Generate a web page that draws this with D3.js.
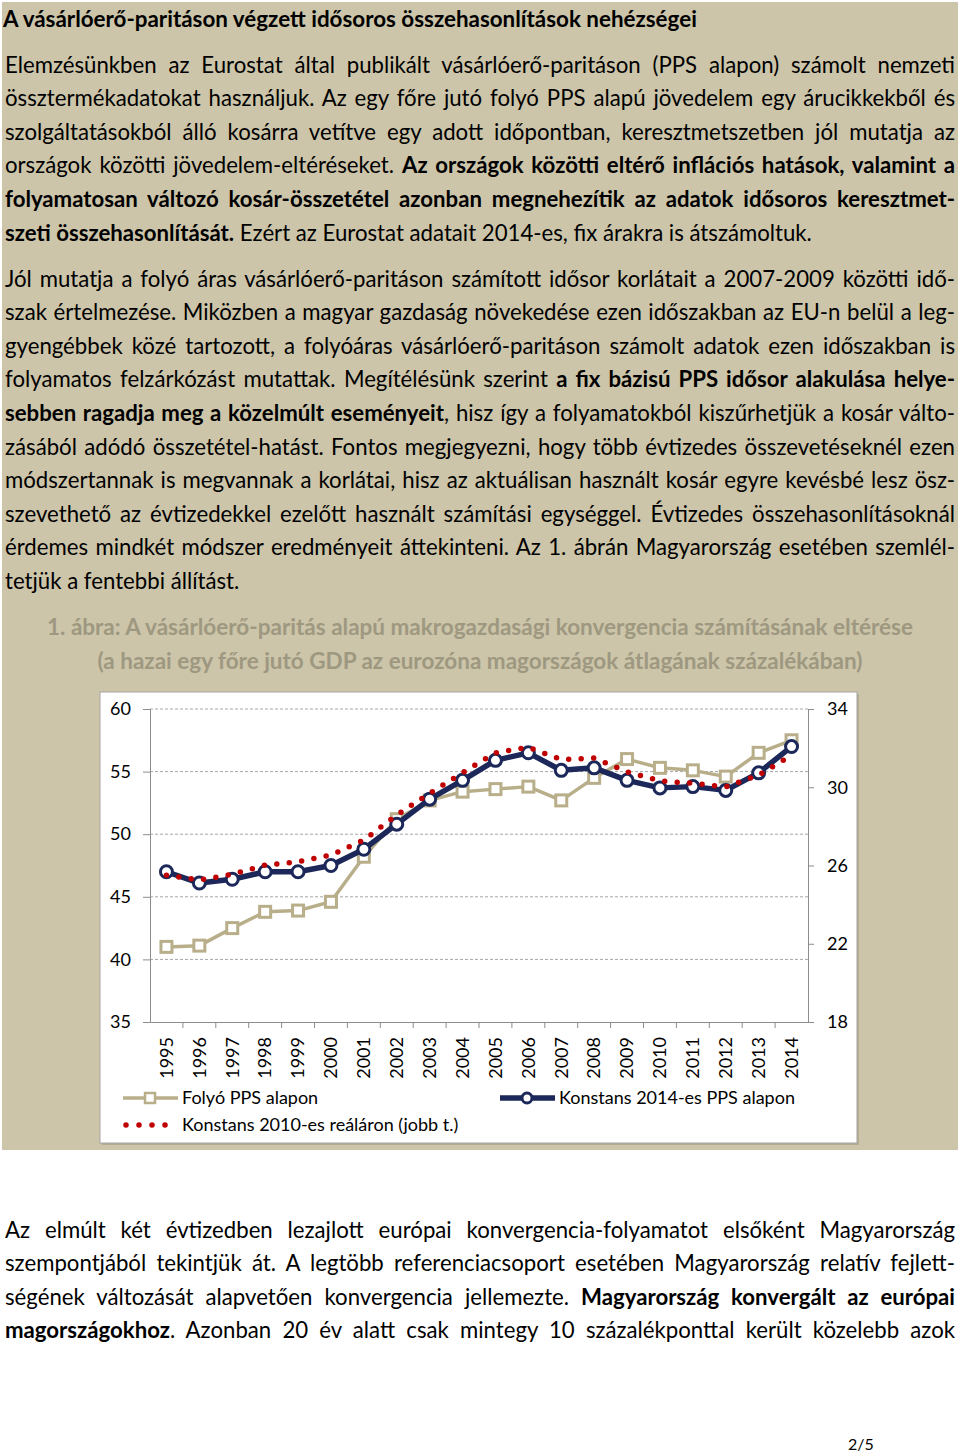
<!DOCTYPE html>
<html>
<head>
<meta charset="utf-8">
<script src="https://cdn.jsdelivr.net/npm/d3@7"></script>
<style>
  body { margin: 0; background: #fff; }
  svg text { font-family: Lato, "Open Sans", sans-serif; }
</style>
</head>
<body>
<div id="page"></div>
<script>
// chart data
const years = ['1995','1996','1997','1998','1999','2000','2001','2002','2003','2004',
  '2005','2006','2007','2008','2009','2010','2011','2012','2013','2014'];
const folyoPPS = [41.0, 41.1, 42.5, 43.8, 43.9, 44.6, 48.2, 51.2, 52.7, 53.4,
  53.6, 53.8, 52.7, 54.5, 56.0, 55.3, 55.1, 54.6, 56.5, 57.5];
const konstans2014 = [47.0, 46.1, 46.4, 47.0, 47.0, 47.5, 48.8, 50.8, 52.8, 54.3,
  55.9, 56.5, 55.1, 55.3, 54.3, 53.7, 53.8, 53.5, 54.9, 57.0];
const konstans2010 = [25.5, 25.26, 25.55, 26.02, 26.19, 26.53, 27.3, 28.58, 29.69, 30.74,
  31.76, 32.04, 31.42, 31.49, 30.79, 30.33, 30.2, 30.02, 30.62, 31.64];
const leftTicks = [35, 40, 45, 50, 55, 60];
const rightTicks = [18, 22, 26, 30, 34];
const legendLabels = ['Folyó PPS alapon', 'Konstans 2014-es PPS alapon', 'Konstans 2010-es reáláron (jobb t.)'];

// page text, lines as in the source (segments: [text, bold])
const title = 'A vásárlóerő-paritáson végzett idősoros összehasonlítások nehézségei';
const para1 = [
  [['Elemzésünkben az Eurostat által publikált vásárlóerő-paritáson (PPS alapon) számolt nemzeti', 0]],
  [['össztermékadatokat használjuk. Az egy főre jutó folyó PPS alapú jövedelem egy árucikkekből és', 0]],
  [['szolgáltatásokból álló kosárra vetítve egy adott időpontban, keresztmetszetben jól mutatja az', 0]],
  [['országok közötti jövedelem-eltéréseket. ', 0], ['Az országok közötti eltérő inflációs hatások, valamint a', 1]],
  [['folyamatosan változó kosár-összetétel azonban megnehezítik az adatok idősoros keresztmet-', 1]],
  [['szeti összehasonlítását.', 1], [' Ezért az Eurostat adatait 2014-es, fix árakra is átszámoltuk.', 0]]
];
const para2 = [
  [['Jól mutatja a folyó áras vásárlóerő-paritáson számított idősor korlátait a 2007-2009 közötti idő-', 0]],
  [['szak értelmezése. Miközben a magyar gazdaság növekedése ezen időszakban az EU-n belül a leg-', 0]],
  [['gyengébbek közé tartozott, a folyóáras vásárlóerő-paritáson számolt adatok ezen időszakban is', 0]],
  [['folyamatos felzárkózást mutattak. Megítélésünk szerint ', 0], ['a fix bázisú PPS idősor alakulása helye-', 1]],
  [['sebben ragadja meg a közelmúlt eseményeit', 1], [', hisz így a folyamatokból kiszűrhetjük a kosár válto-', 0]],
  [['zásából adódó összetétel-hatást. Fontos megjegyezni, hogy több évtizedes összevetéseknél ezen', 0]],
  [['módszertannak is megvannak a korlátai, hisz az aktuálisan használt kosár egyre kevésbé lesz ösz-', 0]],
  [['szevethető az évtizedekkel ezelőtt használt számítási egységgel. Évtizedes összehasonlításoknál', 0]],
  [['érdemes mindkét módszer eredményeit áttekinteni. Az 1. ábrán Magyarország esetében szemlél-', 0]],
  [['tetjük a fentebbi állítást.', 0]]
];
const caption = [
  '1. ábra: A vásárlóerő-paritás alapú makrogazdasági konvergencia számításának eltérése',
  '(a hazai egy főre jutó GDP az eurozóna magországok átlagának százalékában)'
];
const para3 = [
  [['Az elmúlt két évtizedben lezajlott európai konvergencia-folyamatot elsőként Magyarország', 0]],
  [['szempontjából tekintjük át. A legtöbb referenciacsoport esetében Magyarország relatív fejlett-', 0]],
  [['ségének változását alapvetően konvergencia jellemezte. ', 0], ['Magyarország konvergált az európai', 1]],
  [['magországokhoz', 1], ['. Azonban 20 év alatt csak mintegy 10 százalékponttal került közelebb azok', 0]]
];

const W = 960, H = 1454;
const svg = d3.select('#page').append('svg').attr('width', W).attr('height', H);

// beige panel
svg.append('rect').attr('x', 2).attr('y', 2).attr('width', 956).attr('height', 1148).attr('fill', '#ccc5a9');

const fs = 22.2;
const textLeft = 5, textRight = 955;

// writes one line, justified to the margins unless last
function writeLine(segs, y, justify) {
  const t = svg.append('text').attr('x', textLeft).attr('y', y)
    .style('font-size', fs + 'px').attr('fill', '#000');
  segs.forEach(s => {
    t.append('tspan').text(s[0]).style('font-weight', s[1] ? 'bold' : 'normal');
  });
  if (justify) {
    const natural = t.node().getComputedTextLength();
    const full = segs.map(s => s[0]).join('');
    const spaces = (full.match(/ /g) || []).length;
    const extra = (textRight - textLeft) - natural;
    const ws = extra / spaces;
    if (ws > -1.5) {
      t.attr('word-spacing', ws);
    } else {
      t.attr('textLength', textRight - textLeft).attr('lengthAdjust', 'spacing');
    }
  }
}

function writePara(lines, y0, step, lastJustified) {
  lines.forEach((l, i) => {
    const last = i === lines.length - 1;
    writeLine(l, y0 + i * step, !last || lastJustified);
  });
}

svg.append('text').attr('x', 3).attr('y', 27).style('font-size', '22.4px')
  .style('font-weight', 'bold').text(title);

writePara(para1, 72.5, 33.6, false);
writePara(para2, 286.5, 33.6, false);
writePara(para3, 1237.5, 33.6, true);

caption.forEach((c, i) => {
  svg.append('text').attr('x', 480).attr('y', 634.5 + i * 34).attr('text-anchor', 'middle')
    .style('font-size', '22.5px').style('font-weight', 'bold').attr('fill', '#9e9881').text(c);
});

svg.append('text').attr('x', 848).attr('y', 1450).style('font-size', '16px').text('2/5');

// chart box
svg.append('rect').attr('x', 102).attr('y', 694).attr('width', 757).attr('height', 451).attr('fill', '#b3ac90');
svg.append('rect').attr('x', 100).attr('y', 692).attr('width', 757).attr('height', 451)
  .attr('fill', '#fff').attr('stroke', '#a5a5a5').attr('stroke-width', 1);

const x = d3.scaleBand().domain(years).range([150, 808]);
const yL = d3.scaleLinear().domain([35, 60]).range([1022, 709]);
const yR = d3.scaleLinear().domain([18, 34]).range([1022, 709]);
const cx = d => x(d) + x.bandwidth() / 2;

// gridlines
svg.append('g').selectAll('line').data(leftTicks.filter(v => v > 35)).join('line')
  .attr('x1', 150).attr('x2', 808).attr('y1', d => yL(d)).attr('y2', d => yL(d))
  .attr('stroke', '#a6a6a6').attr('stroke-width', 1).attr('stroke-dasharray', '3,2');

const axisColor = '#8c8c8c';
const gL = svg.append('g').attr('transform', 'translate(150,0)')
  .call(d3.axisLeft(yL).tickValues(leftTicks).tickSize(7).tickPadding(12));
const gR = svg.append('g').attr('transform', 'translate(808,0)')
  .call(d3.axisRight(yR).tickValues(rightTicks).tickSize(6).tickPadding(13));
const gX = svg.append('g').attr('transform', 'translate(0,1022)')
  .call(d3.axisBottom(x).tickSize(0).tickPadding(15));
[gL, gR, gX].forEach(g => {
  g.select('.domain').attr('stroke', axisColor);
  g.selectAll('.tick line').attr('stroke', axisColor);
  g.selectAll('.tick text').style('font-size', '18px').style('font-family', 'Lato, sans-serif').attr('fill', '#000');
});
gX.selectAll('.tick text').attr('transform', 'rotate(-90)').attr('text-anchor', 'end')
  .attr('x', -15).attr('y', 0).attr('dy', '0.35em');
// category boundary ticks
svg.append('g').selectAll('line').data(years.slice(1)).join('line')
  .attr('x1', d => x(d)).attr('x2', d => x(d)).attr('y1', 1022).attr('y2', 1028)
  .attr('stroke', axisColor);

// series
const tan = '#b8af8a', navy = '#1c2859', red = '#c00000';
const lineL = d3.line().x((d, i) => cx(years[i])).y(d => yL(d));
const lineR = d3.line().x((d, i) => cx(years[i])).y(d => yR(d));

svg.append('path').datum(folyoPPS).attr('d', lineL).attr('fill', 'none')
  .attr('stroke', tan).attr('stroke-width', 3.5).attr('stroke-linejoin', 'round');
svg.append('g').selectAll('rect').data(folyoPPS).join('rect')
  .attr('x', (d, i) => cx(years[i]) - 5.5).attr('y', d => yL(d) - 5.5)
  .attr('width', 11).attr('height', 11).attr('fill', '#fff').attr('stroke', tan).attr('stroke-width', 3);

svg.append('path').datum(konstans2014).attr('d', lineL).attr('fill', 'none')
  .attr('stroke', navy).attr('stroke-width', 5.5).attr('stroke-linejoin', 'round');
svg.append('g').selectAll('circle').data(konstans2014).join('circle')
  .attr('cx', (d, i) => cx(years[i])).attr('cy', d => yL(d)).attr('r', 6)
  .attr('fill', '#fff').attr('stroke', navy).attr('stroke-width', 3);

svg.append('path').datum(konstans2010).attr('d', lineR).attr('fill', 'none')
  .attr('stroke', red).attr('stroke-width', 5.5).attr('stroke-linecap', 'round')
  .attr('stroke-dasharray', '0,12.5');

// legend
const lg = svg.append('g');
lg.append('line').attr('x1', 123).attr('x2', 178).attr('y1', 1098).attr('y2', 1098)
  .attr('stroke', tan).attr('stroke-width', 3.5);
lg.append('rect').attr('x', 145).attr('y', 1093).attr('width', 10).attr('height', 10)
  .attr('fill', '#fff').attr('stroke', tan).attr('stroke-width', 2.5);
lg.append('line').attr('x1', 500).attr('x2', 555).attr('y1', 1098).attr('y2', 1098)
  .attr('stroke', navy).attr('stroke-width', 5.5);
lg.append('circle').attr('cx', 527).attr('cy', 1098).attr('r', 5)
  .attr('fill', '#fff').attr('stroke', navy).attr('stroke-width', 3);
lg.append('line').attr('x1', 126).attr('x2', 166).attr('y1', 1125).attr('y2', 1125)
  .attr('stroke', red).attr('stroke-width', 5.5).attr('stroke-linecap', 'round')
  .attr('stroke-dasharray', '0,13');
[[182, 1098, 0], [559, 1098, 1], [182, 1125, 2]].forEach(p => {
  lg.append('text').attr('x', p[0]).attr('y', p[1]).attr('dy', '0.35em')
    .style('font-size', '18px').text(legendLabels[p[2]]);
});
</script>
</body>
</html>
